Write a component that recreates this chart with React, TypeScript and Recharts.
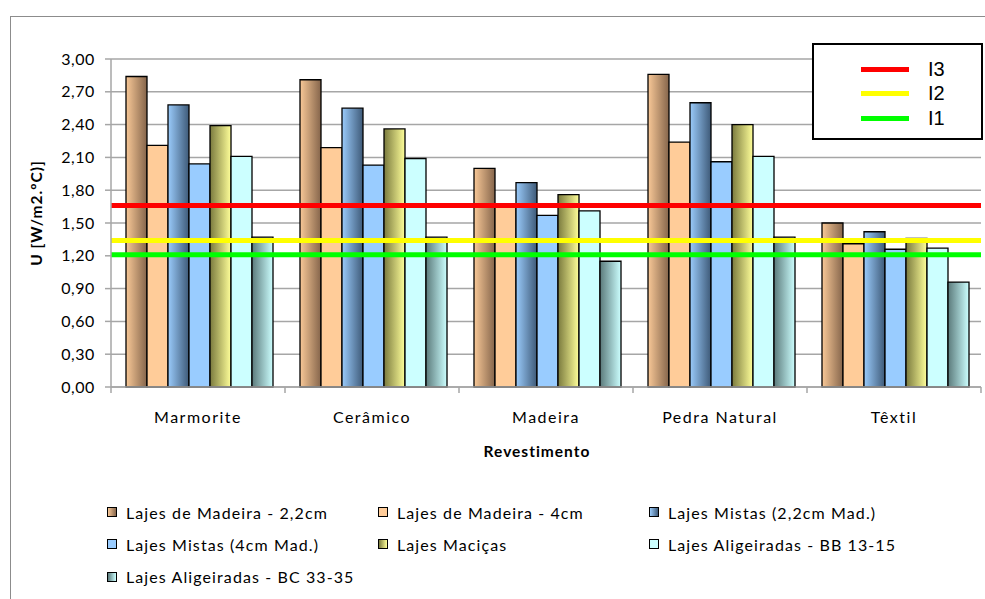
import React from 'react';
import { Bar, BarChart, CartesianGrid, Label, Legend, ReferenceLine, XAxis, YAxis } from 'recharts';

// floor finishes on the category axis
const categories = ['Marmorite', 'Cerâmico', 'Madeira', 'Pedra Natural', 'Têxtil'];

// U values per slab type, W/m2.ºC
const madeira22 = [2.84, 2.81, 2.0, 2.86, 1.5];
const madeira4 = [2.21, 2.19, 1.67, 2.24, 1.31];
const mistas22 = [2.58, 2.55, 1.87, 2.6, 1.42];
const mistas4 = [2.04, 2.03, 1.57, 2.06, 1.26];
const macicas = [2.39, 2.36, 1.76, 2.4, 1.36];
const aligBB = [2.11, 2.09, 1.61, 2.11, 1.27];
const aligBC = [1.37, 1.37, 1.15, 1.37, 0.96];

// limit lines
const limitNames = ['I3', 'I2', 'I1'];
const limitValues = [1.66, 1.34, 1.21];
const limitColors = ['#ff0000', '#ffff00', '#00ff00'];

const yTicks = [0, 0.3, 0.6, 0.9, 1.2, 1.5, 1.8, 2.1, 2.4, 2.7, 3.0];

const series = [
  { key: 'madeira22', name: 'Lajes de Madeira - 2,2cm', values: madeira22, from: '#f8c897', to: '#85654b' },
  { key: 'madeira4', name: 'Lajes de Madeira - 4cm', values: madeira4, from: '#ffcc99', to: '#ffcc99' },
  { key: 'mistas22', name: 'Lajes Mistas (2,2cm Mad.)', values: mistas22, from: '#9acbfb', to: '#3e5a78' },
  { key: 'mistas4', name: 'Lajes Mistas (4cm Mad.)', values: mistas4, from: '#99ccff', to: '#99ccff' },
  { key: 'macicas', name: 'Lajes Maciças', values: macicas, from: '#7a7a3e', to: '#ffff99' },
  { key: 'aligBB', name: 'Lajes Aligeiradas - BB 13-15', values: aligBB, from: '#ccffff', to: '#ccffff' },
  { key: 'aligBC', name: 'Lajes Aligeiradas - BC 33-35', values: aligBC, from: '#5b7a7b', to: '#ccffff' },
];

const data = categories.map((name, i) => {
  const row: Record<string, string | number> = { name };
  series.forEach((s) => {
    row[s.key] = s.values[i];
  });
  return row;
});

const FONT = 'Lato, sans-serif';
const GRID = '#a6a6a6';
const TICK_SIZE = 6;
const TICK_MARGIN = 18;

const fmt = (v: number) => v.toFixed(2).replace('.', ',');

// category label plus tick marks on the band edges
const CategoryTick = (props: any) => {
  const { x, y, payload, index, visibleTicksCount, width } = props;
  const band = width / visibleTicksCount;
  const axisY = y - TICK_SIZE - TICK_MARGIN;
  const left = x - band / 2;
  const right = x + band / 2;
  return (
    <g>
      <line x1={left} x2={left} y1={axisY} y2={axisY + TICK_SIZE} stroke={GRID} strokeWidth={1.5} />
      {index === visibleTicksCount - 1 && (
        <line x1={right} x2={right} y1={axisY} y2={axisY + TICK_SIZE} stroke={GRID} strokeWidth={1.5} />
      )}
      <text
        x={x}
        y={y + 12}
        textAnchor="middle"
        fill="#000"
        style={{ fontFamily: FONT, fontSize: 16, letterSpacing: 1.5 }}
      >
        {payload.value}
      </text>
    </g>
  );
};

const YTitle = (props: any) => {
  const { viewBox } = props;
  const cx = 36;
  const cy = viewBox.y + viewBox.height / 2 - 10;
  return (
    <text
      x={cx}
      y={cy}
      transform={`rotate(-90 ${cx} ${cy})`}
      textAnchor="middle"
      dominantBaseline="central"
      fill="#000"
      style={{ fontFamily: FONT, fontSize: 15.5, fontWeight: 700, letterSpacing: 1 }}
    >
      U [W/m2.ºC)]
    </text>
  );
};

const SeriesLegend = () => (
  <div style={{ position: 'relative', height: 96, fontFamily: FONT, fontSize: 16, letterSpacing: 1.1 }}>
    {series.map((s, i) => (
      <div
        key={s.key}
        style={{
          position: 'absolute',
          left: (i % 3) * 271,
          top: Math.floor(i / 3) * 32.3,
          height: 24,
          display: 'flex',
          alignItems: 'center',
          whiteSpace: 'nowrap',
          color: '#000',
        }}
      >
        <span
          style={{
            width: 8,
            height: 8,
            border: '1px solid #000',
            background: `linear-gradient(to right, ${s.from}, ${s.to})`,
            marginRight: 9,
          }}
        />
        {s.name}
      </div>
    ))}
  </div>
);

const LimitsBox = () => (
  <div
    style={{
      position: 'absolute',
      left: 812,
      top: 43,
      width: 167,
      height: 93,
      border: '2px solid #000',
      background: '#fff',
    }}
  >
    {limitNames.map((n, i) => (
      <div
        key={n}
        style={{ position: 'absolute', left: 47, top: 12 + i * 24.7, height: 24, display: 'flex', alignItems: 'center' }}
      >
        <span style={{ width: 48, height: 5, background: limitColors[i], marginRight: 19 }} />
        <span style={{ fontFamily: '"Liberation Sans", Arial, sans-serif', fontSize: 20, color: '#000' }}>{n}</span>
      </div>
    ))}
  </div>
);

export default function App() {
  return (
    <div
      style={{ position: 'absolute', left: 0, top: 0, width: 985, height: 599, overflow: 'hidden', background: '#fff' }}
    >
      <div
        style={{ position: 'absolute', left: 10, top: 16, width: 1200, height: 1000, border: '1.5px solid #8c8c8c' }}
      />
      <BarChart
        width={985}
        height={599}
        data={data}
        margin={{ top: 59, right: 4, left: 0, bottom: 132 }}
        barCategoryGap={15}
        barGap={0}
      >
        <defs>
          {series.map((s) => (
            <linearGradient key={s.key} id={`grad-${s.key}`} x1="0" y1="0" x2="1" y2="0">
              <stop offset="0%" stopColor={s.from} />
              <stop offset="100%" stopColor={s.to} />
            </linearGradient>
          ))}
        </defs>
        <CartesianGrid vertical={false} stroke={GRID} strokeWidth={1.5} />
        <XAxis
          dataKey="name"
          height={80}
          tickLine={false}
          tickSize={TICK_SIZE}
          tickMargin={TICK_MARGIN}
          axisLine={{ stroke: GRID, strokeWidth: 1.5 }}
          tick={<CategoryTick />}
          interval={0}
        >
          <Label
            value="Revestimento"
            position="insideBottom"
            offset={10}
            dx={-9}
            style={{ fontFamily: FONT, fontSize: 15.5, fontWeight: 700, letterSpacing: 1, fill: '#000' }}
          />
        </XAxis>
        <YAxis
          width={111}
          domain={[0, 3]}
          ticks={yTicks}
          tickFormatter={fmt}
          tickSize={TICK_SIZE}
          tickMargin={10}
          interval={0}
          axisLine={{ stroke: GRID, strokeWidth: 1.5 }}
          tickLine={{ stroke: GRID, strokeWidth: 1.5 }}
          tick={{ fill: '#000', fontFamily: FONT, fontSize: 16, letterSpacing: 0.6 }}
        >
          <Label content={<YTitle />} />
        </YAxis>
        {series.map((s) => (
          <Bar
            key={s.key}
            dataKey={s.key}
            name={s.name}
            fill={`url(#grad-${s.key})`}
            stroke="#000"
            strokeWidth={1.3}
            isAnimationActive={false}
          />
        ))}
        {limitValues.map((v, i) => (
          <ReferenceLine key={limitNames[i]} y={v} stroke={limitColors[i]} strokeWidth={5} />
        ))}
        <Legend
          layout="horizontal"
          verticalAlign="middle"
          align="center"
          content={<SeriesLegend />}
          wrapperStyle={{ left: 107, top: 500, width: 860 }}
        />
      </BarChart>
      <LimitsBox />
    </div>
  );
}
